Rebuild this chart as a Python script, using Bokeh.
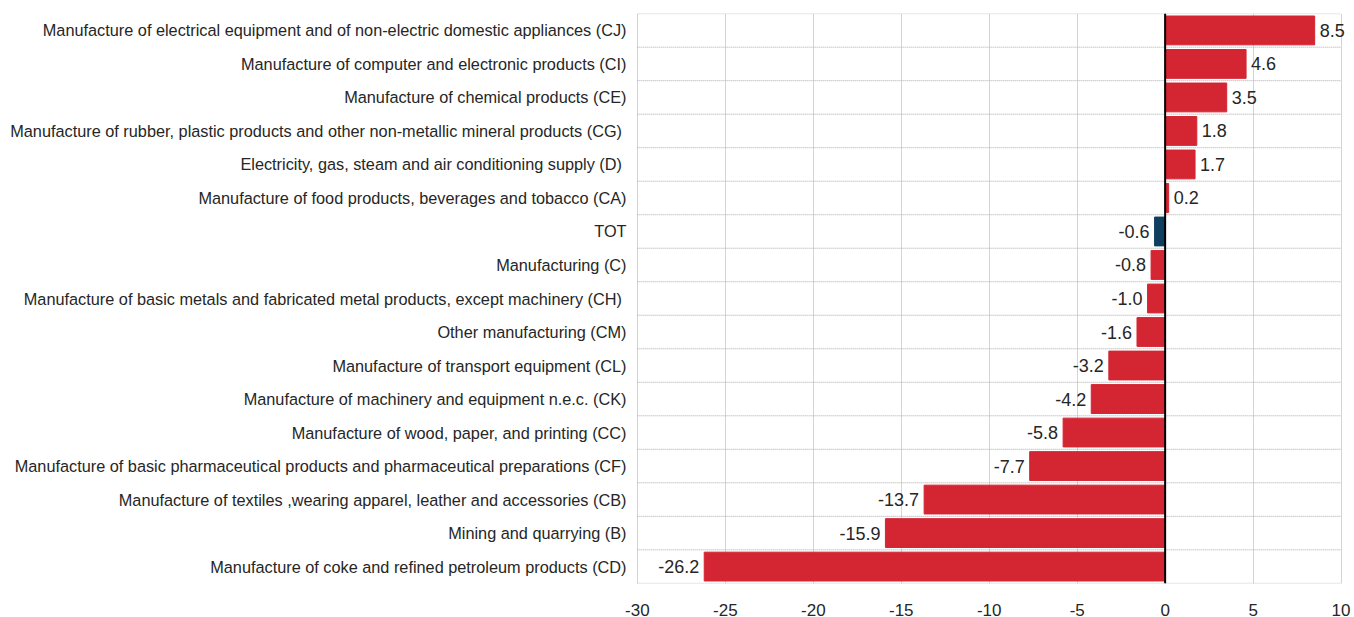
from bokeh.plotting import figure
from bokeh.models import ColumnDataSource, FixedTicker, Span, Range1d, LabelSet
from bokeh.embed import file_html
from bokeh.resources import INLINE
from bokeh.core.properties import value

categories = [
    "Manufacture of electrical equipment and of non-electric domestic appliances (CJ)",
    "Manufacture of computer and electronic products (CI)",
    "Manufacture of chemical products (CE)",
    "Manufacture of rubber,  plastic products and other non-metallic mineral products (CG)",
    "Electricity, gas, steam  and air conditioning supply (D)",
    "Manufacture of food products, beverages and tobacco (CA)",
    "TOT",
    "Manufacturing (C)",
    "Manufacture of basic metals and fabricated metal products, except machinery  (CH)",
    "Other manufacturing (CM)",
    "Manufacture of transport equipment (CL)",
    "Manufacture of machinery and equipment n.e.c. (CK)",
    "Manufacture of wood, paper, and printing (CC)",
    "Manufacture of basic pharmaceutical products and pharmaceutical preparations (CF)",
    "Manufacture of textiles ,wearing apparel, leather and accessories (CB)",
    "Mining and quarrying (B)",
    "Manufacture of coke and refined petroleum products (CD)",
]
values = [8.5, 4.6, 3.5, 1.8, 1.7, 0.2, -0.6, -0.8, -1.0, -1.6, -3.2, -4.2, -5.8, -7.7, -13.7, -15.9, -26.2]
x_ticks = [-30, -25, -20, -15, -10, -5, 0, 5, 10]

RED = "#D42532"
NAVY = "#0E3F5F"
FONT = "Liberation Sans"
TXT = "#262626"
GRID = "#a8a8a8"

n = len(categories)
ypos = [n - 1 - i for i in range(n)]
colors = [NAVY if c == "TOT" else RED for c in categories]
labels = [f"{v:.1f}" for v in values]
pos_idx = [i for i, v in enumerate(values) if v >= 0]
neg_idx = [i for i, v in enumerate(values) if v < 0]

src = ColumnDataSource(dict(y=ypos, v=values, c=colors, lab=labels))
src_pos = ColumnDataSource(dict(y=[ypos[i] for i in pos_idx], v=[values[i] for i in pos_idx], lab=[labels[i] for i in pos_idx]))
src_neg = ColumnDataSource(dict(y=[ypos[i] for i in neg_idx], v=[values[i] for i in neg_idx], lab=[labels[i] for i in neg_idx]))

x_lo, x_max = x_ticks[0], x_ticks[-1]
# row separators (including top and bottom border) limited to the axis span
sep_y = [-0.5] + [y + 0.5 for y in sorted(ypos)]
sep = ColumnDataSource(dict(y=sep_y, x0=[x_lo] * len(sep_y), x1=[x_max] * len(sep_y)))

# extra room beyond 10 so the "8.5" label is not clipped
x_hi = 10.65
x_lo_pad = -30.05
p = figure(frame_width=round(704 * (x_hi - x_lo_pad) / 40), frame_height=570, output_backend="svg",
           toolbar_location=None, x_range=Range1d(x_lo_pad, x_hi), y_range=Range1d(-0.505, n - 0.495),
           min_border_left=636, min_border_top=13, min_border_right=2, min_border_bottom=10)

p.segment(x0="x0", x1="x1", y0="y", y1="y", source=sep, line_color=GRID, line_dash="1 1", line_width=1)

p.hbar(y="y", left=0, right="v", height=0.86, fill_color="c", line_color="c", source=src)

p.add_layout(LabelSet(x="v", y="y", text="lab", source=src_pos, x_offset=5, text_align="left",
                      text_baseline="middle", text_font=value(FONT), text_font_size=value("18px"),
                      text_color=value(TXT)))
p.add_layout(LabelSet(x="v", y="y", text="lab", source=src_neg, x_offset=-5, text_align="right",
                      text_baseline="middle", text_font=value(FONT), text_font_size=value("18px"),
                      text_color=value(TXT)))

p.add_layout(Span(location=0, dimension="height", line_color="black", line_width=2))

p.xaxis.ticker = FixedTicker(ticks=x_ticks)
p.xaxis.major_label_overrides = {t: str(t) for t in x_ticks}
p.yaxis.ticker = FixedTicker(ticks=ypos)
p.yaxis.major_label_overrides = {ypos[i]: categories[i] for i in range(n)}

for ax in (p.xaxis[0], p.yaxis[0]):
    ax.axis_line_color = None
    ax.major_tick_line_color = None
    ax.minor_tick_line_color = None
    ax.major_label_text_font = FONT
    ax.major_label_text_color = TXT
p.xaxis.major_label_text_font_size = "17px"
p.xaxis.major_label_standoff = 14
p.yaxis.major_label_text_font_size = "16.3px"
p.yaxis.major_label_standoff = 4

p.xgrid.ticker = FixedTicker(ticks=x_ticks)
p.xgrid.grid_line_color = GRID
p.xgrid.grid_line_dash = "1 1"
p.ygrid.grid_line_color = None
p.outline_line_color = None

open("out.html", "w").write(file_html(p, INLINE))
